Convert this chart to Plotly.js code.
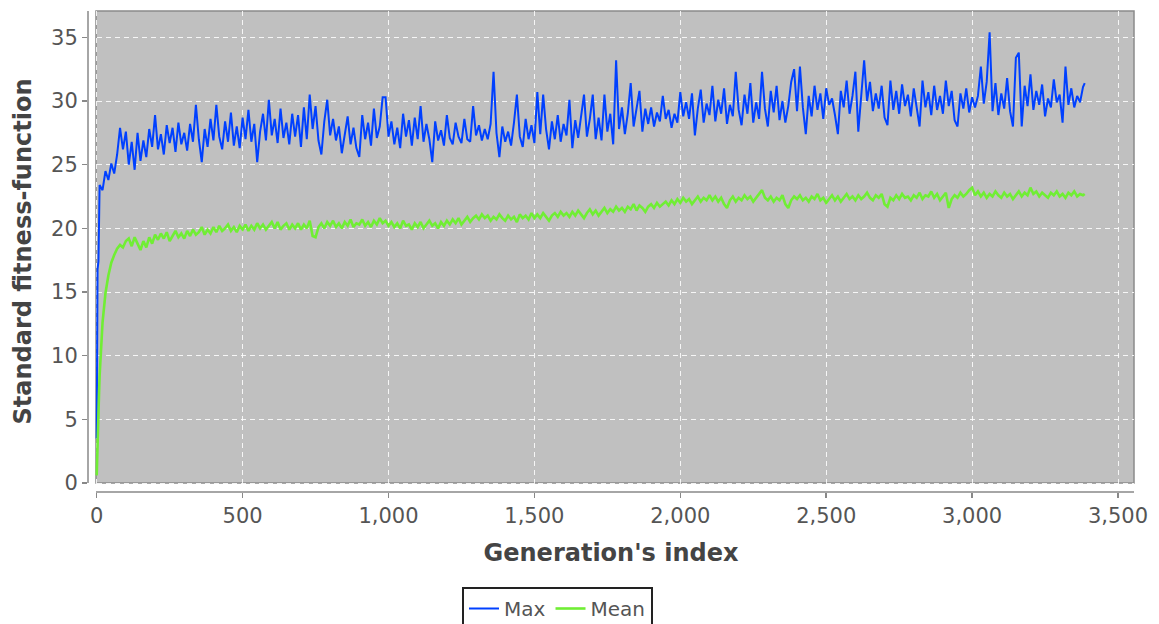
<!DOCTYPE html>
<html>
<head>
<meta charset="utf-8">
<script src="https://cdn.plot.ly/plotly-3.0.1.min.js"></script>
<style>
  html, body { margin: 0; padding: 0; background: #ffffff; }
  #chart { width: 1159px; height: 624px; }
</style>
</head>
<body>
<div id="chart"></div>
<script>
// ---- Data ----
const seriesNames = ["Max", "Mean"];

// first generations (steep start)
const maxEarlyGen = [0, 3, 6];
const maxEarly = [3.5, 16.8, 17.4];
const meanEarlyGen = [0, 2, 4, 6, 8];
const meanEarly = [0.6, 1.8, 3.6, 5.4, 7.0];

// sampled every 10 generations: 10, 20, ..., 3380
const sampledGen = Array.from({length: 338}, (_, i) => 10 + 10 * i);

const maxSampled = [
  23.4, 23.0, 24.5, 23.8, 25.1, 24.3, 25.8, 27.9, 26.2, 27.6,
  25.0, 26.8, 24.6, 27.5, 25.3, 26.9, 25.6, 27.8, 26.4, 28.9,
  26.2, 27.4, 25.8, 28.1, 26.7, 27.9, 26.0, 28.3, 26.6, 27.5,
  26.1, 28.2, 26.8, 29.7, 27.0, 25.2, 27.8, 26.4, 28.6, 26.9,
  29.7, 27.2, 26.2, 28.4, 26.8, 29.1, 26.5, 28.0, 26.3, 28.7,
  27.0, 29.3, 26.8, 28.2, 25.2, 27.6, 29.0, 26.9, 30.1, 27.3,
  28.6, 26.7, 29.4, 27.1, 28.3, 26.6, 29.0, 27.2, 28.9, 26.4,
  29.5, 27.0, 30.5, 27.8, 29.6, 26.9, 25.8, 28.4, 30.1, 27.3,
  28.6, 26.9, 28.0, 25.9, 27.4, 28.8, 26.6, 27.9, 26.3, 25.6,
  28.9, 27.0, 28.3, 26.5, 29.4, 27.1, 28.0, 30.3, 30.3, 27.2,
  28.4, 26.6, 27.9, 26.3, 29.0, 27.2, 28.5, 26.5, 28.7, 27.0,
  29.6, 26.8, 28.2, 27.0, 25.2, 28.4, 26.9, 27.7, 26.5, 28.9,
  27.1, 26.6, 28.3, 27.2, 26.7, 28.6, 27.0, 26.8, 29.6, 27.3,
  28.1, 26.9, 27.8, 27.0, 28.2, 32.3, 27.5, 25.6, 28.0, 26.8,
  27.6, 26.5, 28.3, 30.5, 27.2, 26.4, 28.6, 27.0, 28.1, 26.7,
  30.7, 27.4, 30.5, 27.8, 26.2, 28.4, 27.0, 28.9, 26.8, 28.2,
  27.3, 30.1, 26.3, 28.5, 27.1, 28.8, 30.5, 27.2, 28.6, 30.5,
  27.0, 28.7, 26.9, 30.5, 27.6, 29.0, 26.6, 33.2, 27.8, 29.5,
  27.4, 29.0, 31.4, 28.0, 29.3, 30.8, 27.6, 29.4, 28.2, 29.5,
  28.0, 29.1, 28.4, 30.4, 28.6, 29.3, 27.9, 29.0, 28.3, 30.7,
  28.8, 29.9, 28.6, 30.6, 27.3, 29.4, 30.9, 28.3, 29.8, 28.9,
  31.2, 28.4, 30.1, 29.0, 31.0, 28.2, 29.7, 28.8, 32.3, 29.3,
  28.1, 30.5, 29.0, 31.4, 28.3, 29.9, 28.6, 32.3, 29.4, 28.0,
  30.8, 29.1, 31.2, 28.5, 30.0, 28.3, 29.6, 31.5, 32.5, 29.2,
  32.7, 29.5, 27.4, 30.4, 28.8, 31.2, 29.3, 30.6, 28.6, 31.0,
  29.7, 30.2, 28.9, 27.4, 30.8, 29.5, 31.6, 29.0, 30.4, 32.3,
  27.6, 30.3, 33.2, 30.0, 31.5, 29.2, 30.6, 29.4, 31.2, 28.7,
  28.1, 31.6, 29.3, 30.8, 29.0, 31.3, 29.6, 30.5, 28.8, 31.0,
  29.4, 28.0, 31.6, 29.5, 30.7, 28.9, 31.2, 29.3, 30.4, 29.0,
  31.6, 29.6, 30.8, 28.5, 28.0, 30.6, 29.4, 31.0, 29.1, 30.3,
  29.5, 30.4, 32.7, 29.8, 31.5, 35.4, 29.2, 31.4, 28.9, 30.6,
  29.4, 31.8, 29.2, 28.0, 33.4, 33.8, 28.0, 31.2, 29.6, 32.1,
  29.3, 30.8, 29.7, 31.3, 28.8, 30.2, 29.5, 31.7, 29.9, 30.5,
  28.3, 32.7, 29.7, 31.0, 29.5, 30.4, 29.9, 31.1
];

const meanSampled = [
  8.4, 12.6, 14.9, 16.3, 17.3, 17.9, 18.4, 18.7, 18.5, 19.0,
  19.2, 18.6, 19.3, 18.8, 18.3, 19.0, 18.5, 19.3, 18.8, 19.5,
  19.1, 19.6, 19.2, 19.7, 19.0, 19.4, 19.8, 19.3, 19.6, 19.2,
  19.8, 19.4, 19.9, 19.5, 19.7, 20.1, 19.5, 19.9, 19.6, 20.1,
  19.7, 20.2, 19.8, 20.0, 20.3, 19.8, 20.1, 19.7, 20.2, 19.9,
  20.3, 19.8, 20.2, 19.9, 20.4, 20.0, 20.3, 19.9, 20.2, 20.5,
  20.0, 20.5, 19.9, 20.2, 20.4, 19.9, 20.3, 20.0, 20.4, 19.9,
  20.3, 20.0, 20.6, 19.4, 19.3, 20.1, 20.4, 20.0, 20.5, 20.2,
  20.6, 20.1, 20.4, 20.0, 20.5, 20.2, 20.7, 20.1, 20.4, 20.3,
  20.7, 20.2, 20.5, 20.1, 20.6, 20.3, 20.8, 20.4, 20.6, 20.2,
  20.5, 20.1, 20.4, 20.0, 20.6, 20.2, 20.3, 19.9, 20.4, 20.1,
  20.5, 20.0, 20.3, 20.6, 20.2, 20.4, 20.0, 20.5, 20.2, 20.6,
  20.3, 20.7, 20.4, 20.8, 20.3, 20.6, 20.9, 20.5, 20.8, 21.0,
  20.7, 21.1, 20.8, 21.0, 20.6, 20.9, 20.7, 21.1, 20.8, 20.6,
  21.0, 20.7, 20.9, 20.5, 21.1, 20.8, 21.0, 20.7, 21.2, 20.8,
  21.1, 20.8, 21.2, 20.9, 20.6, 21.0, 21.2, 20.9, 21.3, 21.0,
  21.2, 20.9, 21.3, 21.0, 21.4, 21.1, 20.8, 21.2, 21.5, 21.1,
  21.4, 21.0, 21.3, 21.6, 21.2, 21.5, 21.3, 21.7, 21.4, 21.6,
  21.3, 21.7, 21.5, 21.9, 21.4, 21.8, 21.6, 21.3, 21.7, 21.9,
  21.6, 22.0, 21.7, 21.9, 22.1, 21.8, 22.2, 21.9, 22.3, 22.0,
  22.4, 22.1, 22.3, 21.9, 22.2, 22.5, 22.1, 22.4, 22.2, 22.6,
  22.2, 22.5, 22.1, 22.4, 21.9, 21.6, 22.2, 22.5, 22.1, 22.4,
  22.2, 22.6, 22.3, 22.5, 22.1, 22.4, 22.7, 23.0, 22.4, 22.2,
  22.5, 22.1, 22.4, 22.2, 22.6, 21.9, 21.6, 22.2, 22.5, 22.3,
  22.6, 22.2, 22.4, 22.1, 22.5, 22.3, 22.7, 22.2, 22.4, 22.0,
  22.3, 22.6, 22.2, 22.5, 22.1, 22.4, 22.7, 22.3, 22.5, 22.2,
  22.6, 22.3, 22.5, 22.8, 22.4, 22.2, 22.6, 22.4, 22.7, 21.9,
  21.7, 22.4, 22.2, 22.6, 22.3, 22.7, 22.4, 22.5, 22.2, 22.6,
  22.4, 22.8, 22.3, 22.6, 22.5, 22.9, 22.4, 22.7, 22.2, 22.5,
  22.8, 21.6, 22.3, 22.6, 22.4, 22.8, 22.5, 22.7, 23.0, 23.2,
  22.6, 22.9, 22.5, 22.8, 22.4, 22.7, 22.5, 22.9, 22.6, 22.4,
  22.8, 22.5, 22.7, 22.3, 22.6, 22.9, 22.5, 22.8, 22.6, 23.2,
  22.7, 22.9, 22.5, 22.8, 22.6, 22.4, 22.8, 22.6, 22.9, 22.5,
  22.7, 22.4, 22.8, 22.6, 22.9, 22.5, 22.7, 22.6
];

// last generation
const lastGen = [3386];
const maxLast = [31.4];
const meanLast = [22.7];

const xTickValues = [0, 500, 1000, 1500, 2000, 2500, 3000, 3500];
const yTickValues = [0, 5, 10, 15, 20, 25, 30, 35];

// ---- Build traces ----
const maxX = maxEarlyGen.concat(sampledGen, lastGen);
const maxY = maxEarly.concat(maxSampled, maxLast);
const meanX = meanEarlyGen.concat(sampledGen, lastGen);
const meanY = meanEarly.concat(meanSampled, meanLast);

const FONT = "DejaVu Sans, Verdana, sans-serif";

const traces = [
  { x: maxX, y: maxY, name: seriesNames[0], type: "scatter", mode: "lines",
    line: { color: "#0040ff", width: 2 } },
  { x: meanX, y: meanY, name: seriesNames[1], type: "scatter", mode: "lines",
    line: { color: "#70ee34", width: 2.6 } }
];

// plot frame (gray area inset from the axis lines, JFreeChart-style)
const gx0 = 8 / 1046, gy0 = 9 / 481;

const layout = {
  width: 1159, height: 624,
  margin: { l: 88, r: 25, t: 11, b: 132, pad: 0 },
  paper_bgcolor: "#ffffff",
  plot_bgcolor: "#ffffff",
  font: { family: FONT, color: "#555555" },
  showlegend: true,
  xaxis: {
    range: [-29.8, 3554.8],
    tickvals: xTickValues,
    tickformat: ",d",
    ticks: "outside", ticklen: 5, tickwidth: 1.5, tickcolor: "#888888",
    tickfont: { family: FONT, size: 21, color: "#555555" },
    showline: false, zeroline: false,
    showgrid: true, gridcolor: "rgba(255,255,255,0.85)", gridwidth: 1, griddash: "5px,4px",
    title: { text: "Generation's index", standoff: 16,
             font: { family: FONT, size: 24, color: "#444444", weight: "bold" } }
  },
  yaxis: {
    range: [-0.707, 37.07],
    tickvals: yTickValues,
    ticks: "outside", ticklen: 5, tickwidth: 1.5, tickcolor: "#888888",
    tickfont: { family: FONT, size: 21, color: "#555555" },
    showline: false, zeroline: false,
    showgrid: true, gridcolor: "rgba(255,255,255,0.85)", gridwidth: 1, griddash: "5px,4px",
    title: { text: "Standard fitness-function", standoff: 12,
             font: { family: FONT, size: 24, color: "#444444", weight: "bold" } }
  },
  shapes: [
    { type: "rect", xref: "paper", yref: "paper", x0: gx0, x1: 1, y0: gy0, y1: 1,
      fillcolor: "#c0c0c0", line: { color: "#8a8a8a", width: 1.5 }, layer: "below" },
    { type: "line", xref: "paper", yref: "paper", x0: 0, x1: 0, y0: gy0, y1: 1,
      line: { color: "#888888", width: 1.5 }, layer: "above" },
    { type: "line", xref: "paper", yref: "paper", x0: gx0, x1: 1, y0: 0, y1: 0,
      line: { color: "#888888", width: 1.5 }, layer: "above" }
  ],
  legend: {
    orientation: "h",
    xref: "container", yref: "container",
    x: 462 / 1159, xanchor: "left",
    y: 1 - 587 / 624, yanchor: "top",
    bgcolor: "#ffffff", bordercolor: "#222222", borderwidth: 2,
    font: { family: FONT, size: 20, color: "#555555" },
    itemwidth: 30
  }
};

Plotly.newPlot("chart", traces, layout, { staticPlot: true, displayModeBar: false });
</script>
</body>
</html>
